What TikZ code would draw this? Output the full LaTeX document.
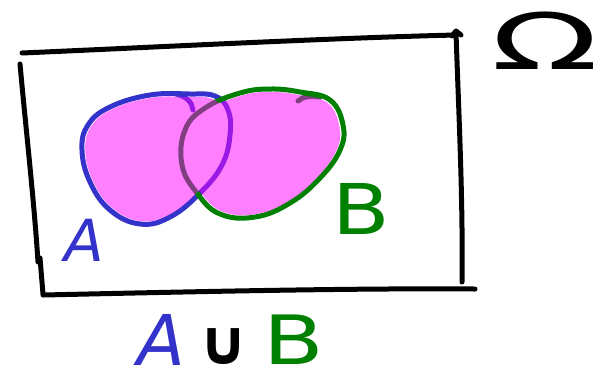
\documentclass[tikz,border=0pt]{standalone}
\usepackage{fontspec}
\setmainfont{DejaVu Sans}
\definecolor{penblue}{RGB}{51,51,204}
\definecolor{pengreen}{RGB}{0,128,0}
\definecolor{hilite}{RGB}{255,0,255}
\begin{document}
\begin{tikzpicture}[x=1pt,y=-1pt,
  pen/.style={line width=5pt, line cap=round, line join=round},
  lbl/.style={inner sep=0pt, anchor=center}]
\useasboundingbox (0,0) rectangle (607,384);
% frame
\draw[pen] (22,53) .. controls (160,47) and (330,38) .. (456,35);
\draw[pen] (452,36) -- (456,31) -- (461,35);
\draw[pen] (456,33) .. controls (459,120) and (463,200) .. (462,282);
\draw[pen] (20,64) .. controls (26,130) and (34,200) .. (38,262);
\draw[pen] (40,258) -- (43,294);
\draw[pen] (43,295) .. controls (180,292) and (350,288) .. (475,289);
% outlines
\draw[pen, penblue] plot[smooth cycle, tension=0.7] coordinates {(110,107) (150,95) (190,94) (215,96) (228,110) (230,135) (222,165) (200,193) (170,217) (140,224) (110,210) (90,182) (82,150) (88,125)};
\draw[pen, penblue] (176,94) .. controls (188,97) and (192,103) .. (193,110);
\draw[pen, pengreen] plot[smooth cycle, tension=0.7] coordinates {(300,92) (330,100) (343,125) (340,150) (320,178) (290,203) (255,217) (220,214) (197,193) (182,165) (185,130) (205,108) (240,93) (270,89)};
\draw[pen, pengreen] (298,101) .. controls (303,96) and (312,96) .. (320,97);
% fills
\begin{scope}[transparency group, opacity=0.5]
\fill[hilite, scale around={0.955:(155,160)}] plot[smooth cycle, tension=0.7] coordinates {(110,107) (150,95) (190,94) (215,96) (228,110) (230,135) (222,165) (200,193) (170,217) (140,224) (110,210) (90,182) (82,150) (88,125)};
\fill[hilite, scale around={0.955:(262,155)}] plot[smooth cycle, tension=0.7] coordinates {(300,92) (330,100) (343,125) (340,150) (320,178) (290,203) (255,217) (220,214) (197,193) (182,165) (185,130) (205,108) (240,93) (270,89)};
\end{scope}
% labels
\node[lbl, penblue] (la) at (84,240) {\fontsize{58}{58}\selectfont\itshape A};
\node[lbl, pengreen] (lb) at (361,209) {\scalebox{1.2}[1]{\fontsize{70}{70}\selectfont B}};
\node[lbl] (om) at (545,41) {\scalebox{1.8}[1]{\fontsize{78}{78}\selectfont Ω}};
\node[lbl, penblue] (ba) at (161,340) {\fontsize{70}{70}\selectfont\itshape A};
\node[lbl] (cup) at (224,347) {\fontsize{62}{62}\selectfont\bfseries ∪};
\node[lbl, pengreen] (bb) at (294,340) {\scalebox{1.3}[1]{\fontsize{68}{68}\selectfont B}};
\end{tikzpicture}
\end{document}
